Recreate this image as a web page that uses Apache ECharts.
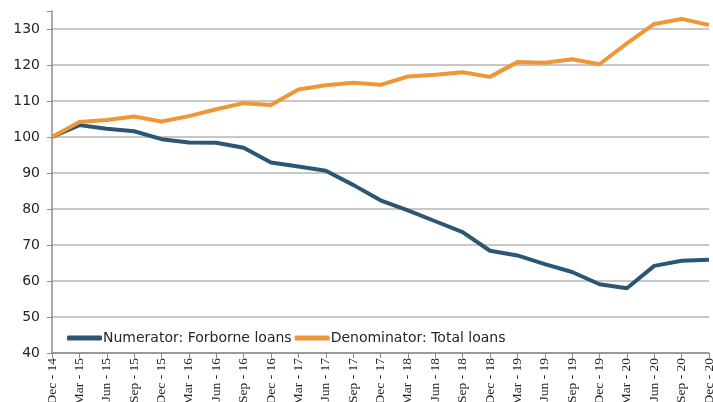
<!DOCTYPE html>
<html>
<head>
<meta charset="utf-8">
<script src="https://cdn.jsdelivr.net/npm/echarts@6/dist/echarts.min.js"></script>
<style>
    html, body { margin: 0; padding: 0; background: #fff; }
    #chart { width: 713px; height: 402px; }
</style>
</head>
<body>
<div id="chart"></div>
<script>
    var quarters = ['Dec - 14', 'Mar - 15', 'Jun - 15', 'Sep - 15', 'Dec - 15', 'Mar - 16', 'Jun - 16', 'Sep - 16',
        'Dec - 16', 'Mar - 17', 'Jun - 17', 'Sep - 17', 'Dec - 17', 'Mar - 18', 'Jun - 18', 'Sep - 18',
        'Dec - 18', 'Mar - 19', 'Jun - 19', 'Sep - 19', 'Dec - 19', 'Mar - 20', 'Jun - 20', 'Sep - 20', 'Dec - 20']
    var forborne = [100, 103.3, 102.3, 101.6, 99.4, 98.5, 98.4, 97.0, 92.9, 91.8, 90.6, 86.7, 82.4, 79.6, 76.6, 73.6,
        68.4, 67.1, 64.7, 62.5, 59.1, 58.0, 64.2, 65.6, 65.9]
    var totalLoans = [100, 104.2, 104.7, 105.7, 104.3, 105.8, 107.7, 109.4, 108.9, 113.2, 114.4, 115.1, 114.5, 116.8,
        117.3, 118.0, 116.7, 120.8, 120.6, 121.6, 120.2, 126.0, 131.4, 132.8, 131.1]

    var myChart = echarts.init(document.getElementById('chart'))

    var option = {
        animation: false,
        grid: {
            left: 52,
            right: 4,
            top: 11,
            bottom: 49,
            containLabel: false,
            outerBoundsMode: 'none'
        },
        legend: {
            left: 62,
            top: 326,
            itemGap: 3,
            itemWidth: 35,
            itemHeight: 5,
            icon: 'roundRect',
            textStyle: {
                fontFamily: 'DejaVu Sans',
                fontSize: 14,
                color: '#262626',
                padding: [0, 0, 0, -4]
            },
            data: ['Numerator: Forborne loans', 'Denominator: Total loans']
        },
        xAxis: {
            type: 'category',
            boundaryGap: false,
            data: quarters,
            axisLine: { lineStyle: { color: '#8c8c8c', width: 1.5 } },
            axisTick: { show: true, length: 5, lineStyle: { color: '#8c8c8c' } },
            axisLabel: {
                rotate: 90,
                interval: 0,
                margin: 5,
                fontFamily: 'Liberation Sans Narrow',
                fontSize: 13.5,
                color: '#262626'
            }
        },
        yAxis: {
            type: 'value',
            min: 40,
            max: 135,
            interval: 10,
            axisLine: { show: true, lineStyle: { color: '#8c8c8c', width: 1.5 } },
            axisTick: { show: true, length: 5, lineStyle: { color: '#8c8c8c' } },
            splitLine: { show: true, showMaxLine: false, lineStyle: { color: '#b4b4b4', width: 1.5 } },
            axisLabel: {
                margin: 12,
                fontFamily: 'DejaVu Sans',
                fontSize: 14,
                color: '#262626',
                formatter: function (v) {
                    return v % 10 === 0 ? v : ''
                }
            }
        },
        series: [
            {
                name: 'Numerator: Forborne loans',
                type: 'line',
                data: forborne,
                symbol: 'none',
                itemStyle: { color: '#2c5675' },
                lineStyle: { color: '#2c5675', width: 4 }
            },
            {
                name: 'Denominator: Total loans',
                type: 'line',
                data: totalLoans,
                symbol: 'none',
                itemStyle: { color: '#ef9638' },
                lineStyle: { color: '#ef9638', width: 4 }
            }
        ]
    }
    option && myChart.setOption(option)
</script>
</body>
</html>
